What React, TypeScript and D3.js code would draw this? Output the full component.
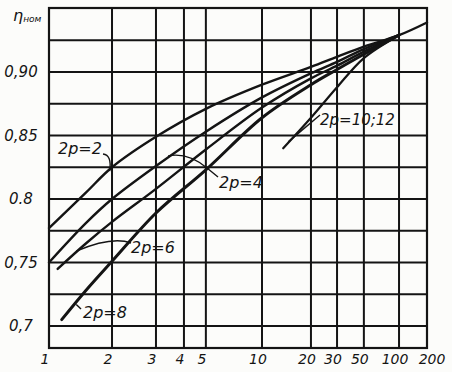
import React from "react";
import * as d3 from "d3";

// ---- data ----
const xTicks = [1, 2, 3, 4, 5, 10, 20, 30, 50, 100, 200];
const xTickLabels = ["1", "2", "3", "4", "5", "10", "20", "30", "50", "100", "200"];
const yTicks = [0.7, 0.75, 0.8, 0.85, 0.9];
const yTickLabels = ["0,7", "0,75", "0.8", "0,85", "0,90"];
const yGrid = [0.7, 0.725, 0.75, 0.775, 0.8, 0.825, 0.85, 0.875, 0.9, 0.925];

const p2P = [1, 1.5, 2, 3, 5, 10, 20, 30, 50, 100, 200];
const p2Eta = [0.777, 0.805, 0.825, 0.849, 0.871, 0.89, 0.904, 0.912, 0.92, 0.929, 0.939];
const p4P = [1, 1.5, 2, 3, 5, 10, 20, 30, 50, 100];
const p4Eta = [0.75, 0.781, 0.8, 0.826, 0.853, 0.88, 0.899, 0.908, 0.918, 0.929];
const p6P = [1.1, 1.5, 2, 3, 5, 10, 20, 30, 50, 100];
const p6Eta = [0.745, 0.765, 0.782, 0.808, 0.839, 0.872, 0.895, 0.905, 0.916, 0.929];
const p8P = [1.15, 1.5, 2, 3, 5, 10, 20, 30, 50, 100];
const p8Eta = [0.705, 0.728, 0.751, 0.789, 0.823, 0.864, 0.89, 0.902, 0.914, 0.929];
const p10P = [13.5, 20, 30, 50, 100];
const p10Eta = [0.84, 0.864, 0.888, 0.911, 0.929];

const seriesNames = ["2p=2", "2p=4", "2p=6", "2p=8", "2p=10;12"];

// ---- layout ----
const W = 452, H = 372;
const L = 49, R = 427, T = 8, B = 348;
// hand-drawn axis: fraction of width at each tick
const xTickFrac = [0, 0.1667, 0.283, 0.357, 0.415, 0.5635, 0.693, 0.762, 0.833, 0.926, 1];

const x = d3
  .scaleLinear()
  .domain(xTicks.map((v) => Math.log10(v)))
  .range(xTickFrac.map((f) => L + f * (R - L)));
const X = (p: number) => x(Math.log10(p));
const y = d3.scaleLinear().domain([0.6827, 0.9504]).range([B, T]);

const line = d3
  .line<[number, number]>()
  .x((d) => X(d[0]))
  .y((d) => y(d[1]))
  .curve(d3.curveCatmullRom.alpha(0.5));

const series = [
  { P: p2P, E: p2Eta, w: 2.4 },
  { P: p4P, E: p4Eta, w: 2.4 },
  { P: p6P, E: p6Eta, w: 2.4 },
  { P: p8P, E: p8Eta, w: 3 },
  { P: p10P, E: p10Eta, w: 2.2 },
];

const font = "'DejaVu Sans', sans-serif";
const ink = "#141414";

export default function App() {
  return (
    <svg
      width={W}
      height={H}
      style={{ position: "absolute", left: 0, top: 0, background: "#fcfcfa" }}
    >
      {/* grid */}
      <g stroke={ink} strokeWidth={2} fill="none">
        {yGrid.map((v) => (
          <line key={"h" + v} x1={L} x2={R} y1={y(v)} y2={y(v)} />
        ))}
        {xTicks.map((v) => (
          <line key={"v" + v} x1={X(v)} x2={X(v)} y1={T} y2={B} />
        ))}
        <rect x={L} y={T} width={R - L} height={B - T} strokeWidth={2.2} />
      </g>

      {/* curves */}
      <g fill="none" stroke={ink} strokeLinecap="round">
        {series.map((s, i) => (
          <path
            key={i}
            d={line(s.P.map((p, j) => [p, s.E[j]] as [number, number])) || ""}
            strokeWidth={s.w}
          />
        ))}
      </g>

      {/* leaders */}
      <g fill="none" stroke={ink} strokeWidth={1.4}>
        <path d={`M103,154 Q112,155 ${X(1.95)},${y(0.822)}`} />
        <path d={`M218,177 L207,168 Q188,152 ${X(3.4)},${y(0.834)}`} />
        <path d={`M131,243 Q112,236 ${X(1.35)},${y(0.759)}`} />
        <path d={`M81,309 L${X(1.35)},${y(0.717)}`} />
        <path d={`M320,115 L${X(14.5)},${y(0.845)}`} />
      </g>

      {/* labels */}
      <g fontFamily={font} fontStyle="italic" fill={ink} fontSize={16}>
        <text x={58} y={154}>{seriesNames[0]}</text>
        <text x={219} y={188}>{seriesNames[1]}</text>
        <text x={131} y={253}>{seriesNames[2]}</text>
        <text x={83} y={318}>{seriesNames[3]}</text>
        <text x={320} y={125} fontSize={15}>{seriesNames[4]}</text>
      </g>

      {/* y tick labels */}
      <g fontFamily={font} fontStyle="italic" fill={ink} fontSize={15} textAnchor="middle">
        {yTicks.map((v, i) => (
          <text key={v} x={21} y={y(v) + 5}>
            {yTickLabels[i]}
          </text>
        ))}
      </g>

      {/* x tick labels */}
      <g fontFamily={font} fontStyle="italic" fill={ink} fontSize={14} textAnchor="middle">
        {xTicks.map((v, i) => (
          <text key={v} x={X(v) + (i === xTicks.length - 1 ? 5 : -4)} y={364}>
            {xTickLabels[i]}
          </text>
        ))}
      </g>

      {/* axis title */}
      <text x={13} y={21} fontFamily={font} fontStyle="italic" fill={ink} fontSize={16}>
        η
        <tspan fontSize={9} dy={1}>ном</tspan>
      </text>
    </svg>
  );
}
